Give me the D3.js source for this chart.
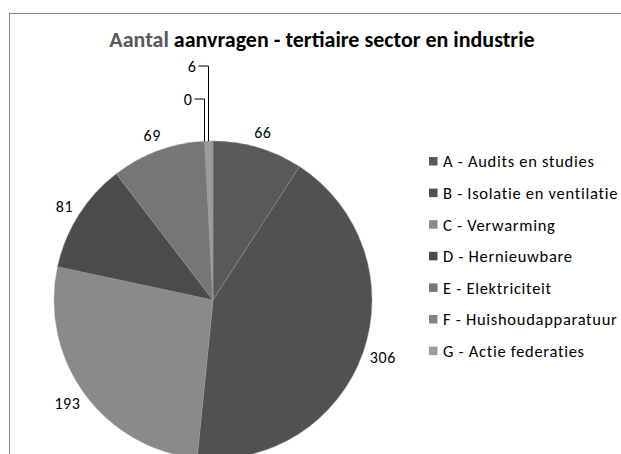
<!DOCTYPE html>
<html>
<head>
<meta charset="utf-8">
<script src="https://cdn.jsdelivr.net/npm/d3@7"></script>
<style>
  body { margin: 0; background: #fff; }
  svg text { font-family: Carlito, Lato, "Open Sans", sans-serif; }
</style>
</head>
<body>
<div id="chart"></div>
<script>
// data
const categories = ["A - Audits en studies", "B - Isolatie en ventilatie", "C - Verwarming",
  "D - Hernieuwbare", "E - Elektriciteit", "F - Huishoudapparatuur", "G - Actie federaties"];
const values = [66, 306, 193, 81, 69, 0, 6];
const colors = ["#595959", "#515151", "#8a8a8a", "#4b4b4b", "#767676", "#838383", "#9b9b9b"];

const width = 621, height = 454;
const cx = 213, cy = 300, r = 159;

const svg = d3.select("#chart").append("svg")
  .attr("width", width)
  .attr("height", height);

// chart frame (runs off the right and bottom of the picture)
svg.append("rect")
  .attr("x", 9.5).attr("y", 13.5)
  .attr("width", 640).attr("height", 480)
  .attr("fill", "none")
  .attr("stroke", "#868686");

// title
const title = svg.append("text")
  .attr("x", 322).attr("y", 47)
  .attr("text-anchor", "middle")
  .style("font-size", "22px")
  .style("font-weight", "bold");
title.append("tspan").attr("fill", "#595959").text("Aantal ");
title.append("tspan").attr("fill", "#000").text("aanvragen - tertiaire sector en industrie");

const pie = d3.pie().sort(null).value(d => d);
const arcs = pie(values);
const arc = d3.arc().innerRadius(0).outerRadius(r);

const g = svg.append("g").attr("transform", `translate(${cx},${cy})`);

g.selectAll("path")
  .data(arcs)
  .enter()
  .append("path")
  .attr("d", arc)
  .attr("fill", (d, i) => colors[i])
  .attr("stroke", "#9a9a9a")
  .attr("stroke-width", 0.4);

// value labels: outside end, except the two tiny slices which get leader lines
const fontSize = 16;
const labels = g.selectAll("text.val")
  .data(arcs)
  .enter()
  .append("text")
  .attr("class", "val")
  .style("font-size", fontSize + "px")
  .style("letter-spacing", "0.6px")
  .attr("fill", "#000")
  .text(d => d.data);

const leaderY = { 5: -201, 6: -234 }; // F and G labels moved up
labels.each(function (d, i) {
  const t = d3.select(this);
  const a = (d.startAngle + d.endAngle) / 2;
  if (leaderY[i] !== undefined) {
    const ly = leaderY[i];
    const px = Math.round(r * Math.sin(a)) - 0.5;
    const lx = px - 10;
    t.attr("x", lx - 2).attr("y", ly + 5.5).attr("text-anchor", "end");
    g.append("path")
      .attr("d", `M${lx},${ly}H${px}V${-Math.sqrt(r * r - px * px)}`)
      .attr("fill", "none")
      .attr("stroke", "#000")
      .attr("stroke-width", 1);
    return;
  }
  const w = this.getComputedTextLength();
  const ux = Math.sin(a), uy = -Math.cos(a);
  const rr = r + 8;
  const x = rr * ux + ux * w / 2;
  const y = rr * uy + uy * fontSize / 2;
  t.attr("x", x).attr("y", y + 5.5).attr("text-anchor", "middle");
});

// legend
const legend = svg.append("g").attr("transform", "translate(429,161.5)");
const item = legend.selectAll("g")
  .data(categories)
  .enter()
  .append("g")
  .attr("transform", (d, i) => `translate(0,${i * 31.6})`);

item.append("rect")
  .attr("x", 0).attr("y", -4.5)
  .attr("width", 8.5).attr("height", 8.5)
  .attr("fill", (d, i) => colors[i]);

const legendText = item.append("text")
  .attr("x", 14).attr("y", 5.8)
  .style("font-size", "16.5px")
  .attr("fill", "#000")
  .text(d => d);

// Excel spreads the legend letters out: the longest entry spans about 174px
const longest = legendText.filter((d, i) => i === 1).node();
const natural = longest.getComputedTextLength();
const spacing = Math.max(0, (174 - natural) / (categories[1].length - 1));
legendText.style("letter-spacing", spacing + "px");
</script>
</body>
</html>
